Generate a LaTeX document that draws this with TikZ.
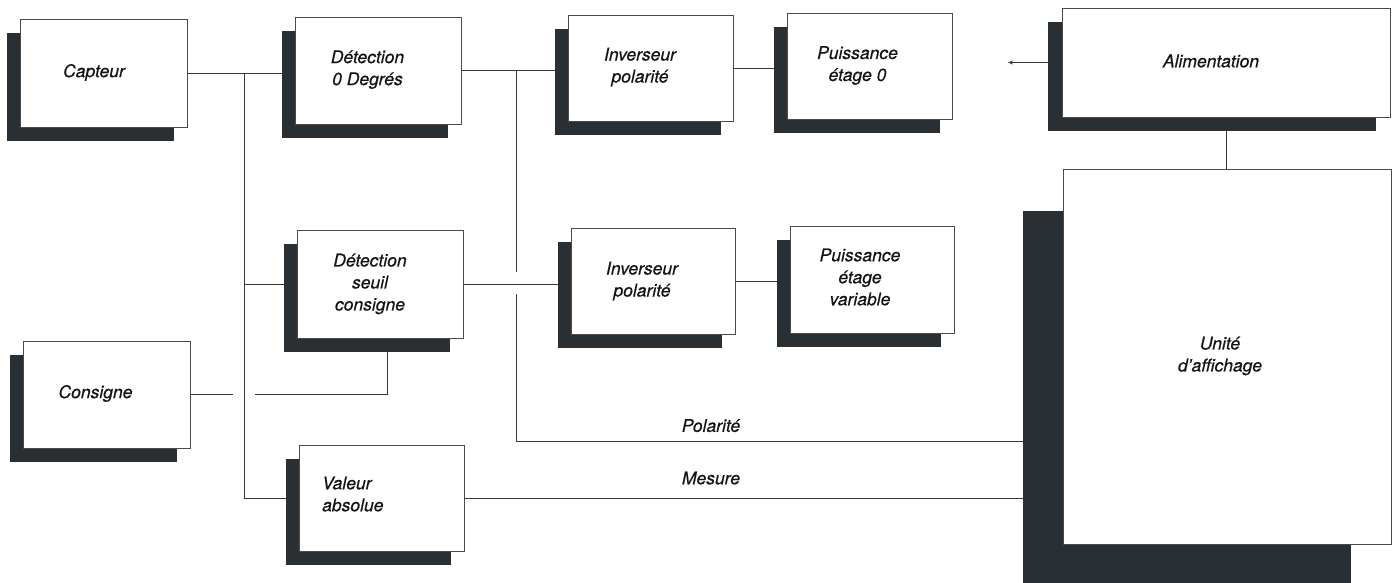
\documentclass[tikz,border=0pt]{standalone}
\usepackage{fontspec}
\setmainfont{TeX Gyre Heros}[ItalicFeatures={FakeBold=0.5}]
\usetikzlibrary{arrows.meta}
\pgfdeclarelayer{wires}
\pgfdeclarelayer{shade}
\pgfsetlayers{wires,shade,main}
\definecolor{shadc}{RGB}{42,47,51}
\definecolor{wirec}{RGB}{55,55,55}
\definecolor{edgec}{RGB}{75,75,75}
\tikzset{
  blk/.style={draw=edgec, line width=0.8pt, fill=white, inner sep=0pt, rectangle},
  lbl/.style={font=\fontsize{17.5}{22}\selectfont\itshape, align=center, inner sep=0pt, text=black!92},
  wire/.style={draw=wirec, line width=0.8pt},
}
\newcommand\blkshadow[3]{%
  \begin{pgfonlayer}{shade}
    \fill[shadc] ([shift={(#2,#3)}]#1.north west) rectangle ([shift={(#2,#3)}]#1.south east);
  \end{pgfonlayer}}
\begin{document}
\begin{tikzpicture}[x=1pt,y=-1pt]
\useasboundingbox (0,0) rectangle (1397,582);
% blocks
\node[blk, minimum width=167pt, minimum height=108pt] (cap) at (103.5,73) {};
\node[blk, minimum width=166pt, minimum height=107pt] (det0) at (378,70.5) {};
\node[blk, minimum width=165pt, minimum height=106pt] (inv1) at (651,68) {};
\node[blk, minimum width=165pt, minimum height=106pt] (p0) at (870,66) {};
\node[blk, minimum width=328pt, minimum height=109pt] (ali) at (1226,62.5) {};
\node[blk, minimum width=166pt, minimum height=108pt] (seuil) at (380,284) {};
\node[blk, minimum width=164pt, minimum height=106pt] (inv2) at (653,281) {};
\node[blk, minimum width=164pt, minimum height=107pt] (pvar) at (872,279.5) {};
\node[blk, minimum width=167pt, minimum height=107pt] (cons) at (106.5,394.5) {};
\node[blk, minimum width=165pt, minimum height=106pt] (val) at (381.5,498) {};
\node[blk, minimum width=328pt, minimum height=375pt] (unite) at (1227,356.5) {};
% shadows
\blkshadow{cap}{-13}{14}
\blkshadow{det0}{-13}{14}
\blkshadow{inv1}{-13}{14}
\blkshadow{p0}{-13}{14}
\blkshadow{ali}{-14}{14}
\blkshadow{seuil}{-13}{14}
\blkshadow{inv2}{-13}{14}
\blkshadow{pvar}{-13}{14}
\blkshadow{cons}{-13}{14}
\blkshadow{val}{-13}{14}
\blkshadow{unite}{-40}{42}
% labels
\node[lbl] (tcap) at (94,72.5) {Capteur};
\node[lbl] (tdet0) at (367.5,69.6) {Détection\\0 Degrés};
\node[lbl] (tinv1) at (640,67) {Inverseur\\polarité};
\node[lbl] (tp0) at (857.5,65.5) {Puissance\\étage 0};
\node[lbl] (tali) at (1211,61) {Alimentation};
\node[lbl] (tseuil) at (370,284) {Détection\\seuil\\consigne};
\node[lbl] (tinv2) at (642,281) {Inverseur\\polarité};
\node[lbl] (tpvar) at (860,277) {Puissance\\étage\\variable};
\node[lbl] (tcons) at (95.5,393.5) {Consigne};
\node[lbl, align=left, anchor=west] (tval) at (322,494) {Valeur\\absolue};
\node[lbl] (tunite) at (1220,356) {Unité\\d'affichage};
\node[lbl] (tpol) at (711,425.6) {Polarité};
\node[lbl] (tmes) at (711,478) {Mesure};
% connectors
\coordinate (bt) at (244,73);
\coordinate (bb) at (244,498);
\coordinate (bs) at (244,284);
\coordinate (cg1) at ([xshift=43pt]cons.east);
\coordinate (cg2) at ([xshift=65pt]cons.east);
\coordinate (ck) at (387,394.5);
\coordinate (jt) at (516,70.5);
\coordinate (jm1) at (516,272);
\coordinate (jm2) at (516,294);
\coordinate (jb) at (516,441);
\coordinate (arr) at (1008,62.5);
\begin{pgfonlayer}{wires}
  \draw[wire] (cap.east) -- (cap.east -| det0.west);
  \draw[wire] (bt) -- (bb) -- (val.west);
  \draw[wire] (bs) -- (seuil.west);
  \draw[wire] (cons.east) -- (cg1);
  \draw[wire] (cg2) -- (ck) -- (ck |- seuil.south);
  \draw[wire] (det0.east) -- (det0.east -| inv1.west);
  \draw[wire] (jt) -- (jm1);
  \draw[wire] (jm2) -- (jb) -- (jb -| unite.west);
  \draw[wire] (seuil.east) -- (seuil.east -| inv2.west);
  \draw[wire] (val.east) -- (val.east -| unite.west);
  \draw[wire] (inv1.east) -- (inv1.east -| p0.west);
  \draw[wire] (inv2.east) -- (inv2.east -| pvar.west);
  \draw[wire, -{Stealth[length=5pt,width=4pt]}] (ali.west) -- (arr);
  \draw[wire] (ali.south) -- (ali.south |- unite.north);
\end{pgfonlayer}
\end{tikzpicture}
\end{document}
